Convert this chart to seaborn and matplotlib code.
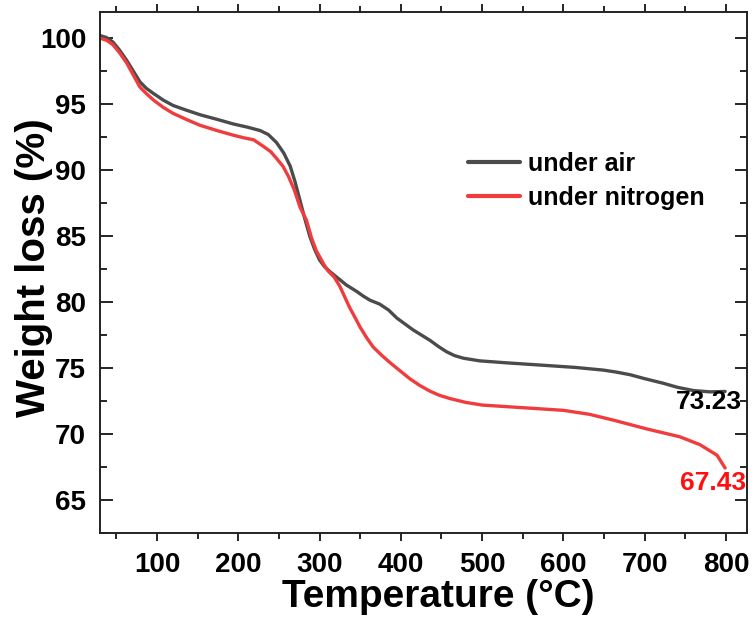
import numpy as np
import pandas as pd
import seaborn as sns
import matplotlib.pyplot as plt
from matplotlib.ticker import MultipleLocator

# TGA curves
temp_air = [30, 38, 46, 54, 63, 71, 79, 87, 96, 108, 120, 136, 153, 174, 194, 212, 227, 237,
            247, 256, 264, 270, 276, 282, 288, 294, 300, 306, 313, 325, 333, 346, 354, 362,
            374, 385, 395, 415, 436, 446, 456, 466, 477, 497, 530, 579, 615, 649, 665, 682,
            700, 723, 740, 760, 780, 799]
weight_air = [100.2, 100.05, 99.7, 99.1, 98.3, 97.5, 96.7, 96.2, 95.8, 95.3, 94.9, 94.55,
              94.2, 93.85, 93.5, 93.25, 93.0, 92.7, 92.1, 91.3, 90.3, 89.1, 87.7, 86.3, 85.0,
              84.0, 83.2, 82.7, 82.3, 81.7, 81.3, 80.8, 80.45, 80.15, 79.85, 79.4, 78.8, 77.9,
              77.1, 76.65, 76.25, 75.95, 75.75, 75.55, 75.4, 75.2, 75.05, 74.85, 74.7, 74.5,
              74.2, 73.85, 73.55, 73.3, 73.2, 73.23]

temp_n2 = [30, 38, 46, 54, 63, 71, 79, 87, 96, 108, 120, 136, 153, 174, 194, 207, 219, 231,
           240, 247, 255, 262, 269, 276, 284, 290, 296, 305, 310, 318, 325, 331, 337, 344,
           350, 358, 366, 376, 387, 399, 411, 423, 436, 447, 460, 480, 500, 550, 600, 632,
           662, 702, 743, 768, 789, 799]
weight_n2 = [100.0, 99.85, 99.5, 98.9, 98.1, 97.2, 96.3, 95.8, 95.3, 94.75, 94.3, 93.85,
             93.4, 93.0, 92.65, 92.45, 92.3, 91.8, 91.4, 90.9, 90.3, 89.5, 88.5, 87.2, 86.2,
             84.9, 83.9, 82.9, 82.4, 81.9, 81.2, 80.4, 79.6, 78.8, 78.1, 77.3, 76.6, 76.0,
             75.4, 74.8, 74.2, 73.7, 73.25, 72.95, 72.7, 72.4, 72.2, 72.0, 71.8, 71.5,
             71.05, 70.4, 69.8, 69.2, 68.4, 67.43]

series_names = ["under air", "under nitrogen"]
end_labels = ["73.23", "67.43"]

df = pd.concat([
    pd.DataFrame({"Temperature": temp_air, "Weight": weight_air, "atmosphere": series_names[0]}),
    pd.DataFrame({"Temperature": temp_n2, "Weight": weight_n2, "atmosphere": series_names[1]}),
])

sns.set_style("ticks", {"text.color": "black", "axes.labelcolor": "black",
                        "xtick.color": "black", "ytick.color": "black",
                        "axes.edgecolor": "#222222"})
plt.rcParams['font.family'] = ['Liberation Sans', 'DejaVu Sans']
plt.rcParams['font.weight'] = 'bold'

colors = {series_names[0]: "#4b4b4b", series_names[1]: "#f03c3c"}

fig = plt.figure(figsize=(7.55, 6.22), dpi=100)
ax = fig.add_axes([0.1325, 0.143, 0.857, 0.838])

sns.lineplot(data=df, x="Temperature", y="Weight", hue="atmosphere", palette=colors,
             linewidth=2.4, ax=ax, sort=False, estimator=None)
for ln in ax.get_lines():
    ln.set_solid_joinstyle('round')
    ln.set_solid_capstyle('round')

ax.set_xlim(30, 826)
ax.set_ylim(62.5, 102)

ax.xaxis.set_major_locator(MultipleLocator(100))
ax.xaxis.set_minor_locator(MultipleLocator(50))
ax.yaxis.set_major_locator(MultipleLocator(5))
ax.yaxis.set_minor_locator(MultipleLocator(2.5))
ax.set_xticks(range(100, 801, 100))

ax.tick_params(axis='x', which='major', direction='out', length=6, width=1.2, pad=8,
               labelsize=20, top=True)
ax.tick_params(axis='x', which='minor', direction='out', length=4, width=1.2, top=True)
ax.tick_params(axis='y', which='major', direction='in', length=9, width=1.2, pad=10,
               labelsize=20, right=True)
ax.tick_params(axis='y', which='minor', direction='in', length=5, width=1.2, right=True)
for lab in ax.get_xticklabels() + ax.get_yticklabels():
    lab.set_fontweight('bold')

for s in ax.spines.values():
    s.set_linewidth(1.4)
    s.set_color("#222222")

ax.set_xlabel("Temperature (°C)", fontsize=28, fontweight='bold', va='center')
ax.set_ylabel("Weight loss (%)", fontsize=29, fontweight='bold', va='center')
ax.xaxis.set_label_coords(0.522, -0.123)
ax.yaxis.set_label_coords(-0.102, 0.509)

ax.text(779, 72.4, end_labels[0], color="black", fontsize=19, fontweight='bold',
        ha='center', va='center')
ax.text(784, 66.3, end_labels[1], color="#ff1010", fontsize=19, fontweight='bold',
        ha='center', va='center')

leg = ax.legend(loc='upper left', bbox_to_anchor=(0.553, 0.75), frameon=False,
                fontsize=18, handlelength=2.1, handletextpad=0.3, labelspacing=0.4,
                borderaxespad=0)
for t in leg.get_texts():
    t.set_fontweight('bold')
    t.set_color('black')
for h in leg.get_lines():
    h.set_linewidth(3)

fig.savefig("out.png", dpi=100)
